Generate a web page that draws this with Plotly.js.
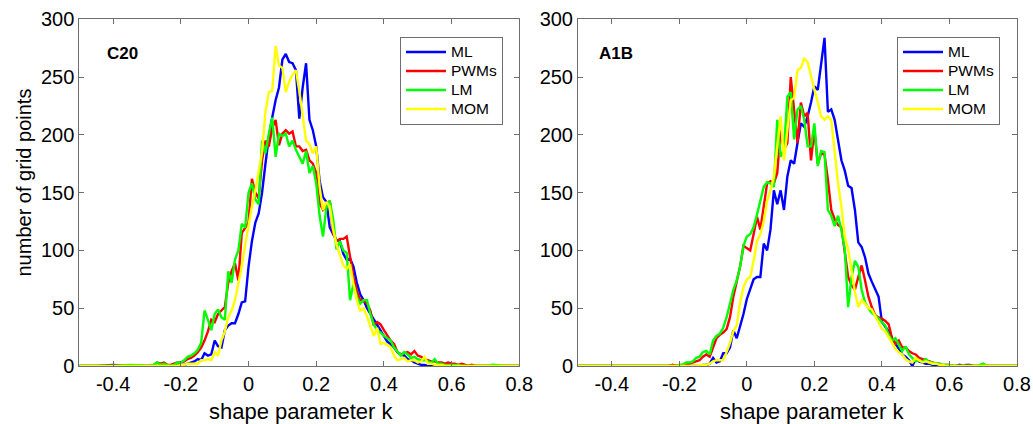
<!DOCTYPE html>
<html>
<head>
<meta charset="utf-8">
<script src="https://cdn.plot.ly/plotly-3.0.1.min.js"></script>
<style>html,body{margin:0;padding:0;background:#fff;}#chart{width:1033px;height:424px;}</style>
</head>
<body>
<div id="chart"></div>
<script>
// shape parameter k (bin centres)
const K = [
 -0.50,-0.45,-0.40,-0.35,
 -0.30,-0.29,-0.28,-0.27,-0.26,-0.25,-0.24,-0.23,-0.22,-0.21,
 -0.20,-0.19,-0.18,-0.17,-0.16,-0.15,-0.14,-0.13,-0.12,-0.11,
 -0.10,-0.09,-0.08,-0.07,-0.06,-0.05,-0.04,-0.03,-0.02,-0.01,
 0.00,0.01,0.02,0.03,0.04,0.05,0.06,0.07,0.08,0.09,
 0.10,0.11,0.12,0.13,0.14,0.15,0.16,0.17,0.18,0.19,
 0.20,0.21,0.22,0.23,0.24,0.25,0.26,0.27,0.28,0.29,
 0.30,0.31,0.32,0.33,0.34,0.35,0.36,0.37,0.38,0.39,
 0.40,0.41,0.42,0.43,0.44,0.45,0.46,0.47,0.48,0.49,
 0.50,0.51,0.52,0.53,0.54,0.55,0.56,0.57,0.58,0.59,
 0.60,0.61,0.62,0.63,0.64,0.65,0.66,0.67,0.68,0.69,
 0.70,0.71,0.72,0.76,0.80
];

// C20 panel
const C20_ML = [
 0,0,1,0,
 0,0,0,0,0,1,0,0,1,0,
 1,1,2,3,4,6,5,11,9,10,
 22,17,16,31,35,37,37,45,55,56,
 86,108,124,132,150,175,198,215,230,241,
 265,270,263,262,256,214,241,262,213,204,
 190,160,146,142,120,114,109,108,97,92,
 93,86,72,62,57,50,45,40,35,30,
 25,21,19,16,12,10,9,6,5,3,
 2,1,1,0,0,0,0,0,0,0,
 0,0,0,0,0,0,0,0,0,0,
 0,0,0,0,0
];
const C20_PWMs = [
 0,0,0,0,
 0,0,1,3,2,3,1,1,2,3,
 3,4,6,7,9,12,16,22,30,40,
 38,45,48,51,72,82,89,74,115,120,
 124,162,150,145,178,195,190,206,213,191,
 201,204,201,203,190,190,186,187,178,175,
 167,141,135,138,143,115,108,110,110,112,
 94,77,65,57,57,54,48,35,38,36,
 31,26,22,19,12,10,11,12,10,13,
 9,8,6,5,4,4,3,3,2,3,
 2,2,1,2,1,0,1,0,0,0,
 0,0,0,0,0
];
const C20_LM = [
 0,0,0,1,
 0,0,1,3,1,2,1,0,1,3,
 3,5,8,9,11,14,20,48,40,31,
 45,49,42,40,82,72,92,100,123,120,
 150,158,144,140,195,184,201,215,181,201,
 199,201,190,195,187,181,175,186,167,173,
 158,130,112,137,143,127,101,108,100,98,
 57,71,60,54,57,57,45,36,31,29,
 26,24,22,16,12,9,12,10,7,8,
 6,5,5,4,3,6,2,2,1,1,
 1,1,1,0,0,0,0,0,0,0,
 0,0,1,0,0
];
const C20_MOM = [
 0,0,0,0,
 0,0,0,0,0,0,0,0,0,0,
 1,1,2,2,2,2,5,5,6,5,
 12,9,22,30,42,48,57,72,86,105,
 122,138,152,170,185,220,237,238,277,260,
 258,237,246,252,256,238,218,195,192,184,
 190,155,135,142,138,118,105,95,87,84,
 88,71,57,48,50,43,35,26,33,19,
 20,18,16,9,5,6,7,4,5,5,
 3,4,8,2,2,1,1,1,0,0,
 0,0,0,0,0,0,0,0,0,0,
 0,0,0,0,0
];

// A1B panel
const A1B_ML = [
 0,0,0,0,
 0,0,0,0,0,0,0,0,0,0,
 0,0,0,0,0,0,0,1,1,2,
 7,3,4,11,11,16,31,24,34,45,
 58,66,75,77,77,106,100,118,152,140,
 152,135,164,178,175,193,210,207,216,228,
 242,239,262,284,220,222,213,195,178,169,
 156,154,135,107,103,94,80,73,66,60,
 38,34,30,24,19,14,10,8,5,0,
 6,4,3,2,2,1,1,0,0,0,
 0,0,0,1,0,1,1,0,0,0,
 0,0,0,0,0
];
const A1B_PWMs = [
 0,0,0,0,
 0,0,0,0,0,0,0,0,1,0,
 1,1,1,2,3,4,5,8,10,8,
 17,24,27,29,32,42,60,72,86,104,
 102,100,114,129,118,138,158,160,158,167,
 204,187,193,250,219,193,228,216,219,178,
 204,175,184,183,161,135,127,122,120,100,
 77,70,66,77,87,74,60,51,44,42,
 41,39,36,24,19,22,16,16,13,11,
 10,7,6,5,4,3,2,2,1,1,
 1,0,0,0,0,0,0,0,0,0,
 0,0,0,0,0
];
const A1B_LM = [
 0,0,0,0,
 0,0,0,0,0,0,0,0,0,0,
 1,1,3,3,4,7,8,12,13,10,
 22,26,28,33,42,54,66,74,86,104,
 112,114,120,131,143,155,159,158,155,213,
 181,187,233,237,196,222,225,213,190,190,
 210,173,186,185,135,130,121,130,118,101,
 51,77,91,86,66,55,50,46,44,41,
 38,35,27,22,24,19,13,17,10,7,
 4,5,4,6,3,3,2,2,1,1,
 1,0,0,0,0,0,0,0,0,1,
 2,0,0,0,0
];
const A1B_MOM = [
 0,0,0,0,
 0,0,0,0,0,0,0,0,0,0,
 0,0,0,0,0,0,1,1,1,2,
 4,5,5,5,12,20,30,35,55,68,
 75,77,91,108,114,125,143,152,164,190,
 216,178,207,230,232,256,258,266,263,250,
 239,228,216,213,216,213,184,158,138,112,
 101,81,64,51,57,54,50,49,43,38,
 32,30,25,19,15,12,10,6,4,3,
 7,5,3,4,3,2,2,1,1,0,
 0,0,0,0,0,0,0,0,0,0,
 0,0,0,0,0
];

const METHODS = ['ML','PWMs','LM','MOM'];
const COLORS = ['#0000ff','#ff0000','#00ff00','#ffff00'];
const PANELS = ['C20','A1B'];
const XTICKS = [-0.4,-0.2,0,0.2,0.4,0.6,0.8];
const XTICKTEXT = ['-0.4','-0.2','0','0.2','0.4','0.6','0.8'];
const YTICKS = [0,50,100,150,200,250,300];
const XTITLE = 'shape parameter k';
const YTITLE = 'number of grid points';

const series = [[C20_ML,C20_PWMs,C20_LM,C20_MOM],[A1B_ML,A1B_PWMs,A1B_LM,A1B_MOM]];
const traces = [];
series.forEach((set,p)=>{
  set.forEach((vals,i)=>{
    traces.push({
      type:'scatter', mode:'lines', x:K, y:vals,
      name:'<span style="font-size:15.5px">'+METHODS[i]+'</span>',
      xaxis: p===0?'x':'x2', yaxis: p===0?'y':'y2',
      legend: p===0?'legend':'legend2',
      line:{color:COLORS[i], width:2.4}
    });
  });
});

const FONT = 'Liberation Sans, Arial, Helvetica, sans-serif';
const AX = '#6e6e6e';
function xax(dom, anchor){
  return {domain:dom, anchor:anchor, range:[-0.5,0.8], tickmode:'array', tickvals:XTICKS, ticktext:XTICKTEXT,
    ticks:'inside', ticklen:5, tickcolor:AX, showline:true, linecolor:AX, linewidth:1, mirror:'ticks',
    showgrid:false, zeroline:false, tickfont:{size:20, family:FONT, color:'#000'}};
}
function yax(dom, anchor){
  return {domain:dom, anchor:anchor, range:[0,300], tickmode:'array', tickvals:YTICKS,
    ticks:'inside', ticklen:5, tickcolor:AX, showline:true, linecolor:AX, linewidth:1, mirror:'ticks',
    showgrid:false, zeroline:false, tickfont:{size:20, family:FONT, color:'#000'}};
}
function leg(x){
  return {x:x, y:1-36.5/424, xanchor:'left', yanchor:'top', bgcolor:'#fff', bordercolor:AX, borderwidth:1,
    font:{size:12.3, family:FONT, color:'#000'}, tracegroupgap:0, itemwidth:40};
}
const W=1033,H=424;
const layout = {
  width:W, height:H, margin:{l:0,r:0,t:0,b:0}, paper_bgcolor:'#fff', plot_bgcolor:'#fff',
  font:{family:FONT, size:20, color:'#000'}, showlegend:true,
  xaxis: xax([79.3/W, 519.3/W], 'y'),
  yaxis: yax([1-366/H, 1-19.3/H], 'x'),
  xaxis2: xax([578/W, 1017/W], 'y2'),
  yaxis2: yax([1-366/H, 1-19.3/H], 'x2'),
  legend: leg(400/W),
  legend2: leg(897/W),
  annotations:[
    {text:'<b>'+PANELS[0]+'</b>', x:122/W, y:1-53/H, xref:'paper', yref:'paper', showarrow:false, xanchor:'center', yanchor:'middle', font:{size:17, family:FONT, color:'#000'}},
    {text:'<b>'+PANELS[1]+'</b>', x:615.5/W, y:1-53/H, xref:'paper', yref:'paper', showarrow:false, xanchor:'center', yanchor:'middle', font:{size:17, family:FONT, color:'#000'}},
    {text:XTITLE, x:300.8/W, y:1-411/H, xref:'paper', yref:'paper', showarrow:false, xanchor:'center', yanchor:'middle', font:{size:22, family:FONT, color:'#000'}},
    {text:XTITLE, x:811.7/W, y:1-411/H, xref:'paper', yref:'paper', showarrow:false, xanchor:'center', yanchor:'middle', font:{size:22, family:FONT, color:'#000'}},
    {text:YTITLE, x:23/W, y:1-182.5/H, xref:'paper', yref:'paper', showarrow:false, xanchor:'center', yanchor:'middle', textangle:-90, font:{size:20, family:FONT, color:'#000'}}
  ]
};
Plotly.newPlot('chart', traces, layout, {displayModeBar:false, staticPlot:true});
</script>
</body>
</html>
